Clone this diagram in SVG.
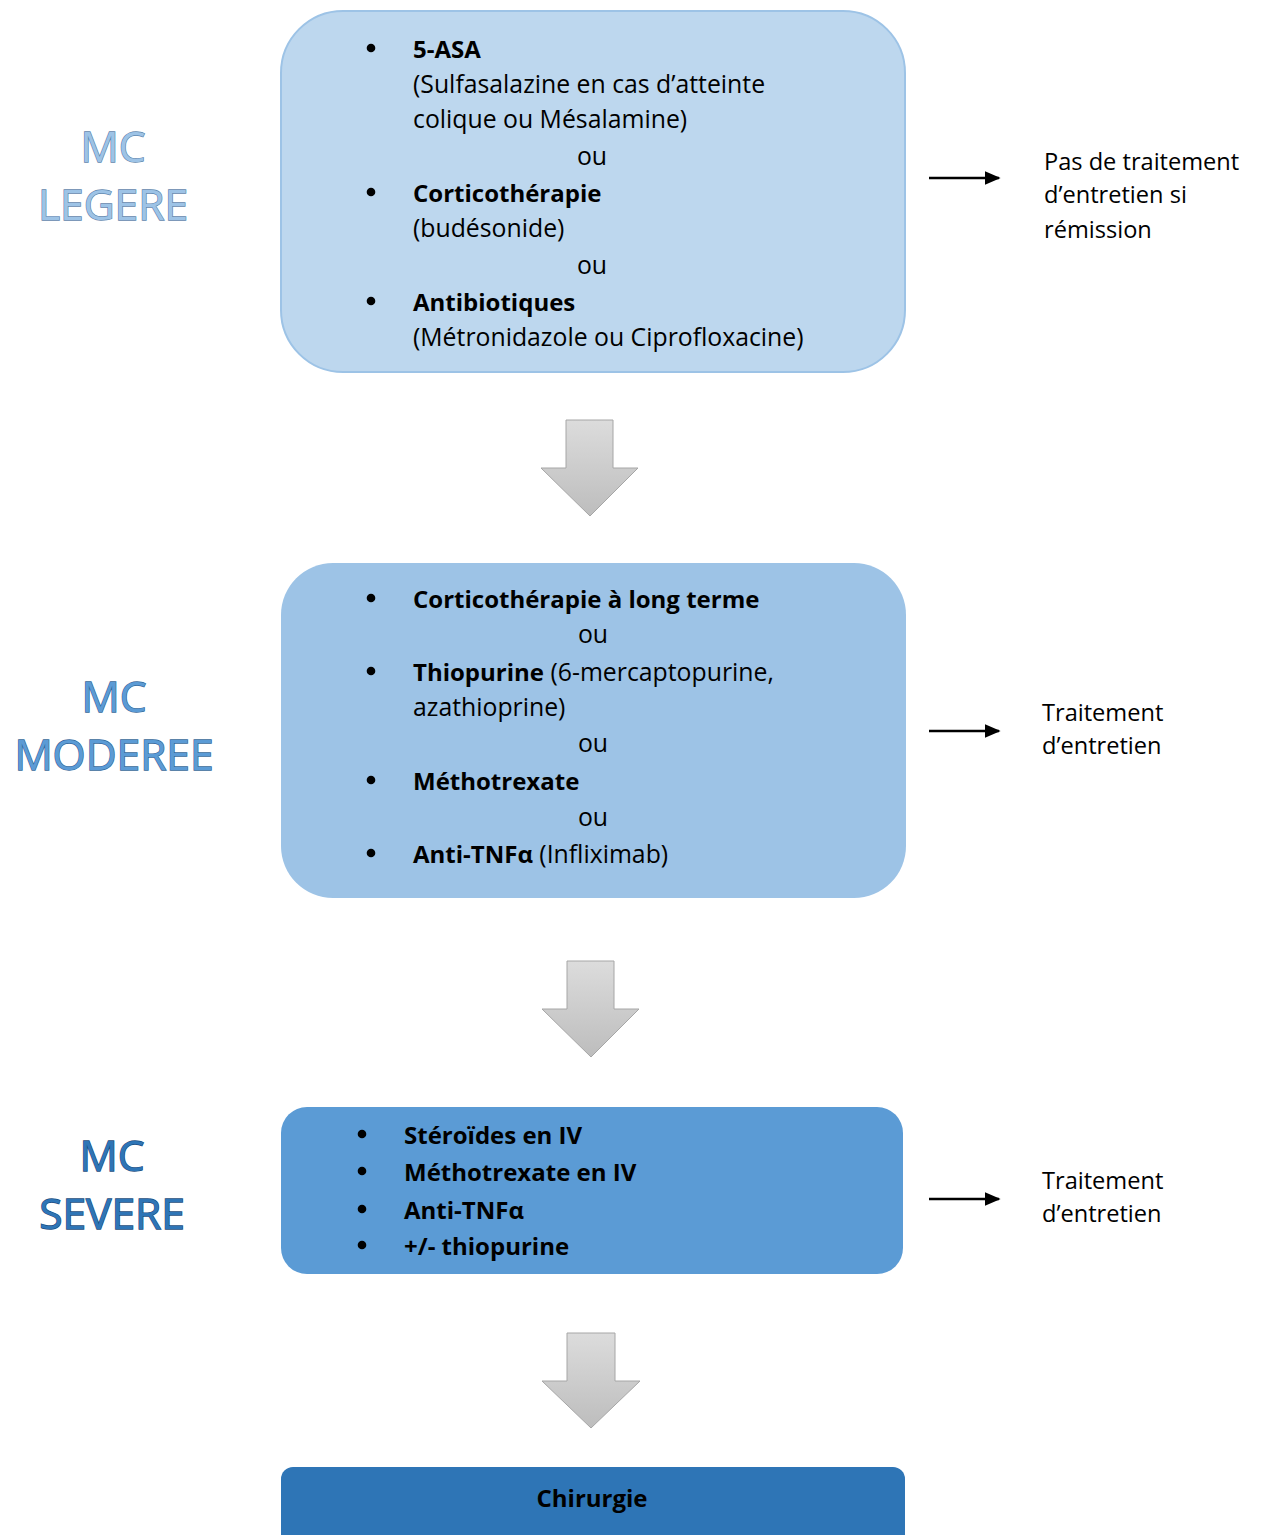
<svg xmlns="http://www.w3.org/2000/svg" width="1264" height="1535" viewBox="0 0 1264 1535">
<style>
text{font-family:"Open Sans","Noto Sans","Liberation Sans",sans-serif;fill:#000}
.t{font-size:24.8px}
.b{font-size:24px;font-weight:bold}
.c{text-anchor:middle}
.bul{fill:#000}
.lab{font-size:42.5px;text-anchor:middle;stroke-width:1.3;paint-order:stroke}
.side{font-size:23.6px}
.blk{stroke:#a6a6a6;stroke-width:1;fill:url(#g)}
.ln{stroke:#000;stroke-width:2.5;fill:none;marker-end:url(#ah)}
</style>
<defs>
<linearGradient id="g" x1="0" y1="0" x2="0" y2="1">
<stop offset="0" stop-color="#dcdcdc"/>
<stop offset="1" stop-color="#bdbdbd"/>
</linearGradient>
<marker id="ah" viewBox="0 0 10 10" refX="9" refY="5" markerWidth="16" markerHeight="14" orient="auto" markerUnits="userSpaceOnUse" preserveAspectRatio="none">
<path d="M0,0 L10,5 L0,10 z" fill="#000"/>
</marker>
</defs>

<g id="label-legere">
<text class="lab" x="113" y="162" style="fill:#9dc3e6" stroke="#5f86ad">MC</text>
<text class="lab" x="113" y="220" style="fill:#9dc3e6" stroke="#5f86ad">LEGERE</text>
</g>
<g id="label-moderee">
<text class="lab" x="114" y="712" style="fill:#5b9bd5" stroke="#35679a">MC</text>
<text class="lab" x="114" y="770" style="fill:#5b9bd5" stroke="#35679a">MODEREE</text>
</g>
<g id="label-severe">
<text class="lab" x="112" y="1171" style="fill:#2e75b6" stroke="#1a4c80">MC</text>
<text class="lab" x="112" y="1229" style="fill:#2e75b6" stroke="#1a4c80">SEVERE</text>
</g>

<g id="box-legere">
<rect x="281" y="11" width="624" height="361" rx="62" fill="#bdd7ee" stroke="#9dc3e6" stroke-width="2"/>
<circle class="bul" cx="371" cy="48" r="4.3"/>
<text class="b" x="413" y="58">5-ASA</text>
<text class="t" x="413" y="93">(Sulfasalazine en cas d’atteinte</text>
<text class="t" x="413" y="128">colique ou Mésalamine)</text>
<text class="t c" x="592" y="165">ou</text>
<circle class="bul" cx="371" cy="192" r="4.3"/>
<text class="b" x="413" y="202">Corticothérapie</text>
<text class="t" x="413" y="237">(budésonide)</text>
<text class="t c" x="592" y="274">ou</text>
<circle class="bul" cx="371" cy="301" r="4.3"/>
<text class="b" x="413" y="311">Antibiotiques</text>
<text class="t" x="413" y="346">(Métronidazole ou Ciprofloxacine)</text>
</g>

<g id="box-moderee">
<rect x="281" y="563" width="625" height="335" rx="52" fill="#9dc3e6"/>
<circle class="bul" cx="371" cy="598" r="4.3"/>
<text class="b" x="413" y="608">Corticothérapie à long terme</text>
<text class="t c" x="593" y="643">ou</text>
<circle class="bul" cx="371" cy="671" r="4.3"/>
<text x="413" y="681" class="t"><tspan font-weight="bold" font-size="24px">Thiopurine</tspan> (6-mercaptopurine,</text>
<text class="t" x="413" y="716">azathioprine)</text>
<text class="t c" x="593" y="752">ou</text>
<circle class="bul" cx="371" cy="780" r="4.3"/>
<text class="b" x="413" y="790">Méthotrexate</text>
<text class="t c" x="593" y="826">ou</text>
<circle class="bul" cx="371" cy="853" r="4.3"/>
<text x="413" y="863" class="t"><tspan font-weight="bold" font-size="24px">Anti-TNFα</tspan> (Infliximab)</text>
</g>

<g id="box-severe">
<rect x="281" y="1107" width="622" height="167" rx="26" fill="#5b9bd5"/>
<circle class="bul" cx="362" cy="1134" r="4.3"/>
<text class="b" x="404" y="1144">Stéroïdes en IV</text>
<circle class="bul" cx="362" cy="1171" r="4.3"/>
<text class="b" x="404" y="1181">Méthotrexate en IV</text>
<circle class="bul" cx="362" cy="1209" r="4.3"/>
<text class="b" x="404" y="1219">Anti-TNFα</text>
<circle class="bul" cx="362" cy="1245" r="4.3"/>
<text class="b" x="404" y="1255">+/- thiopurine</text>
</g>

<g id="box-chirurgie">
<rect x="281" y="1467" width="624" height="90" rx="12" fill="#2e75b6"/>
<text class="b c" x="592" y="1507">Chirurgie</text>
</g>

<g id="side-legere">
<text class="side" x="1044" y="170">Pas de traitement</text>
<text class="side" x="1044" y="203">d’entretien si</text>
<text class="side" x="1044" y="238">rémission</text>
</g>
<g id="side-moderee">
<text class="side" x="1042" y="721">Traitement</text>
<text class="side" x="1042" y="754">d’entretien</text>
</g>
<g id="side-severe">
<text class="side" x="1042" y="1189">Traitement</text>
<text class="side" x="1042" y="1222">d’entretien</text>
</g>

<g id="connectors">
<path class="blk" d="M566,420 H613 V468 H638 L590,516 L541,468 H566 Z"/>
<path class="blk" d="M567,961 H614 V1009 H639 L591,1057 L542,1009 H567 Z"/>
<path class="blk" d="M567,1333 H615 V1381 H640 L591,1428 L542,1381 H567 Z"/>
<path class="ln" d="M929,178 H999"/>
<path class="ln" d="M929,731 H999"/>
<path class="ln" d="M929,1199 H999"/>
</g>
</svg>
